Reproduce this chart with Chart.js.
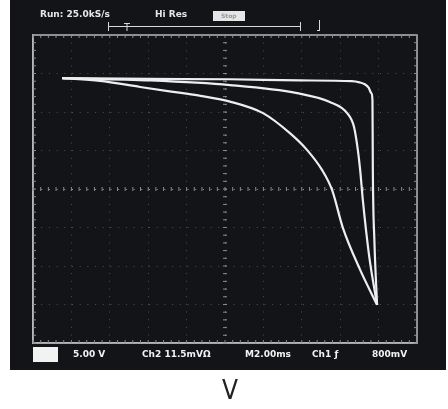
<!DOCTYPE html>
<html>
<head>
<meta charset="utf-8">
<script src="https://cdn.jsdelivr.net/npm/chart.js@4.4.1/dist/chart.umd.min.js"></script>
<style>
  html, body { margin: 0; padding: 0; background: #fff; }
  canvas { display: block; }
</style>
</head>
<body>
<canvas id="scope" width="448" height="409"></canvas>
<script>
// Curves in graticule divisions (x: 0..10 left to right, y: 0..8 bottom to top)
var outerX = [0.76, 3.05, 5.13, 6.95, 8.30, 8.50, 8.64, 8.74, 8.81, 8.84, 8.85, 8.89, 8.96];
var outerY = [6.88, 6.86, 6.85, 6.82, 6.80, 6.77, 6.72, 6.63, 6.49, 6.31, 4.49, 2.68, 0.99];

var middleX = [0.76, 3.05, 5.13, 6.88, 7.73, 8.18, 8.36, 8.46, 8.52, 8.59, 8.75, 8.96];
var middleY = [6.88, 6.82, 6.70, 6.49, 6.26, 5.97, 5.61, 5.01, 4.49, 3.71, 2.29, 0.99];

var innerX = [0.76, 1.74, 2.79, 3.60, 4.30, 5.13, 5.99, 6.69, 7.14, 7.53, 7.79, 8.07, 8.52, 8.96];
var innerY = [6.88, 6.81, 6.65, 6.53, 6.43, 6.27, 5.97, 5.45, 5.01, 4.49, 3.97, 2.99, 1.90, 0.99];

var topText = ['Run: 25.0kS/s', 'Hi Res'];
var bottomText = ['5.00 V', 'Ch2 11.5mV\u03A9', 'M2.00ms', 'Ch1 \u0192', '800mV'];
var axisLabel = 'V';

function toPoints(xs, ys) {
    var pts = [];
    for (var i = 0; i < xs.length; i++) {
        pts.push({x: xs[i], y: ys[i]});
    }
    return pts;
}

function traceSet(xs, ys) {
    return {
        data: toPoints(xs, ys),
        showLine: true,
        borderColor: '#eeeeee',
        borderWidth: 2.2,
        pointRadius: 0,
        cubicInterpolationMode: 'monotone',
        fill: false
    };
}

// black scope screen + labels
var scopePlugin = {
    id: 'scope',
    beforeDraw: function(chart) {
        var c = chart.ctx;
        c.save();
        c.fillStyle = '#ffffff';
        c.fillRect(0, 0, chart.width, chart.height);
        c.fillStyle = '#131418';
        c.fillRect(10, 0, 436, 370);
        c.restore();
    },
    beforeDatasetsDraw: function(chart) {
        var c = chart.ctx;
        var a = chart.chartArea;
        var xs = chart.scales.x, ys = chart.scales.y;
        var cx = xs.getPixelForValue(5), cy = ys.getPixelForValue(4);
        c.save();
        // graticule frame
        c.strokeStyle = '#b8b8b8';
        c.lineWidth = 1.5;
        c.strokeRect(a.left, a.top, a.right - a.left, a.bottom - a.top);
        c.strokeStyle = '#8a8a8a';
        c.lineWidth = 1;
        c.beginPath();
        // minor ticks on the centre lines and the frame
        for (var i = 0; i <= 50; i++) {
            var px = xs.getPixelForValue(i / 5);
            c.moveTo(px, cy - 2); c.lineTo(px, cy + 2);
            c.moveTo(px, a.top); c.lineTo(px, a.top + 3);
            c.moveTo(px, a.bottom); c.lineTo(px, a.bottom - 3);
        }
        for (var j = 0; j <= 40; j++) {
            var py = ys.getPixelForValue(j / 5);
            c.moveTo(cx - 2, py); c.lineTo(cx + 2, py);
            c.moveTo(a.left, py); c.lineTo(a.left + 3, py);
            c.moveTo(a.right, py); c.lineTo(a.right - 3, py);
        }
        c.stroke();
        c.restore();
    },
    afterDraw: function(chart) {
        var c = chart.ctx;
        c.save();
        c.fillStyle = '#e6e6e6';
        c.font = 'bold 9px "DejaVu Sans"';
        c.textBaseline = 'middle';
        c.fillText(topText[0], 40, 15);
        c.fillText(topText[1], 155, 15);
        c.fillRect(213, 11, 32, 10);
        c.fillStyle = '#999';
        c.font = 'bold 6px "DejaVu Sans"';
        c.fillText('Stop', 221, 16);

        // trigger / record bar
        c.strokeStyle = '#d8d8d8';
        c.lineWidth = 1;
        c.beginPath();
        c.moveTo(108, 26.5); c.lineTo(300, 26.5);
        c.moveTo(108.5, 22); c.lineTo(108.5, 31);
        c.moveTo(300.5, 22); c.lineTo(300.5, 31);
        c.moveTo(124, 23.5); c.lineTo(130, 23.5);
        c.moveTo(127, 23); c.lineTo(127, 31);
        c.moveTo(319.5, 20); c.lineTo(319.5, 31);
        c.moveTo(317, 30.5); c.lineTo(320, 30.5);
        c.stroke();

        // bottom readout
        c.fillStyle = '#f2f2f2';
        c.fillRect(33, 347, 25, 15);
        c.font = 'bold 9px "DejaVu Sans"';
        c.fillText(bottomText[0], 73, 355);
        c.fillText(bottomText[1], 142, 355);
        c.fillText(bottomText[2], 245, 355);
        c.fillText(bottomText[3], 312, 355);
        c.fillText(bottomText[4], 372, 355);

        c.fillStyle = '#222';
        c.font = '26px "DejaVu Sans Condensed"';
        c.textAlign = 'center';
        c.fillText(axisLabel, 230, 392);
        c.restore();
    }
};

function gridColor(centre) {
    return function(ctx) {
        return ctx.tick && ctx.tick.value === centre ? '#9a9a9a' : '#4c4d52';
    };
}

var ctx = document.getElementById('scope').getContext('2d');
var scopeChart = new Chart(ctx, {
    type: 'scatter',
    data: {
        datasets: [
            traceSet(outerX, outerY),
            traceSet(middleX, middleY),
            traceSet(innerX, innerY)
        ]
    },
    options: {
        responsive: false,
        animation: false,
        layout: {padding: {left: 33, right: 31, top: 35, bottom: 66}},
        plugins: {legend: {display: false}, tooltip: {enabled: false}},
        scales: {
            x: {
                type: 'linear', min: 0, max: 10,
                ticks: {display: false, stepSize: 1},
                grid: {color: gridColor(5), lineWidth: 1, drawTicks: false},
                border: {display: true, color: '#b5b5b5', width: 1.5, dash: [1, 6.68]}
            },
            y: {
                type: 'linear', min: 0, max: 8,
                ticks: {display: false, stepSize: 1},
                grid: {color: gridColor(4), lineWidth: 1, drawTicks: false},
                border: {display: true, color: '#b5b5b5', width: 1.5, dash: [1, 6.7]}
            }
        }
    },
    plugins: [scopePlugin]
});
</script>
</body>
</html>
